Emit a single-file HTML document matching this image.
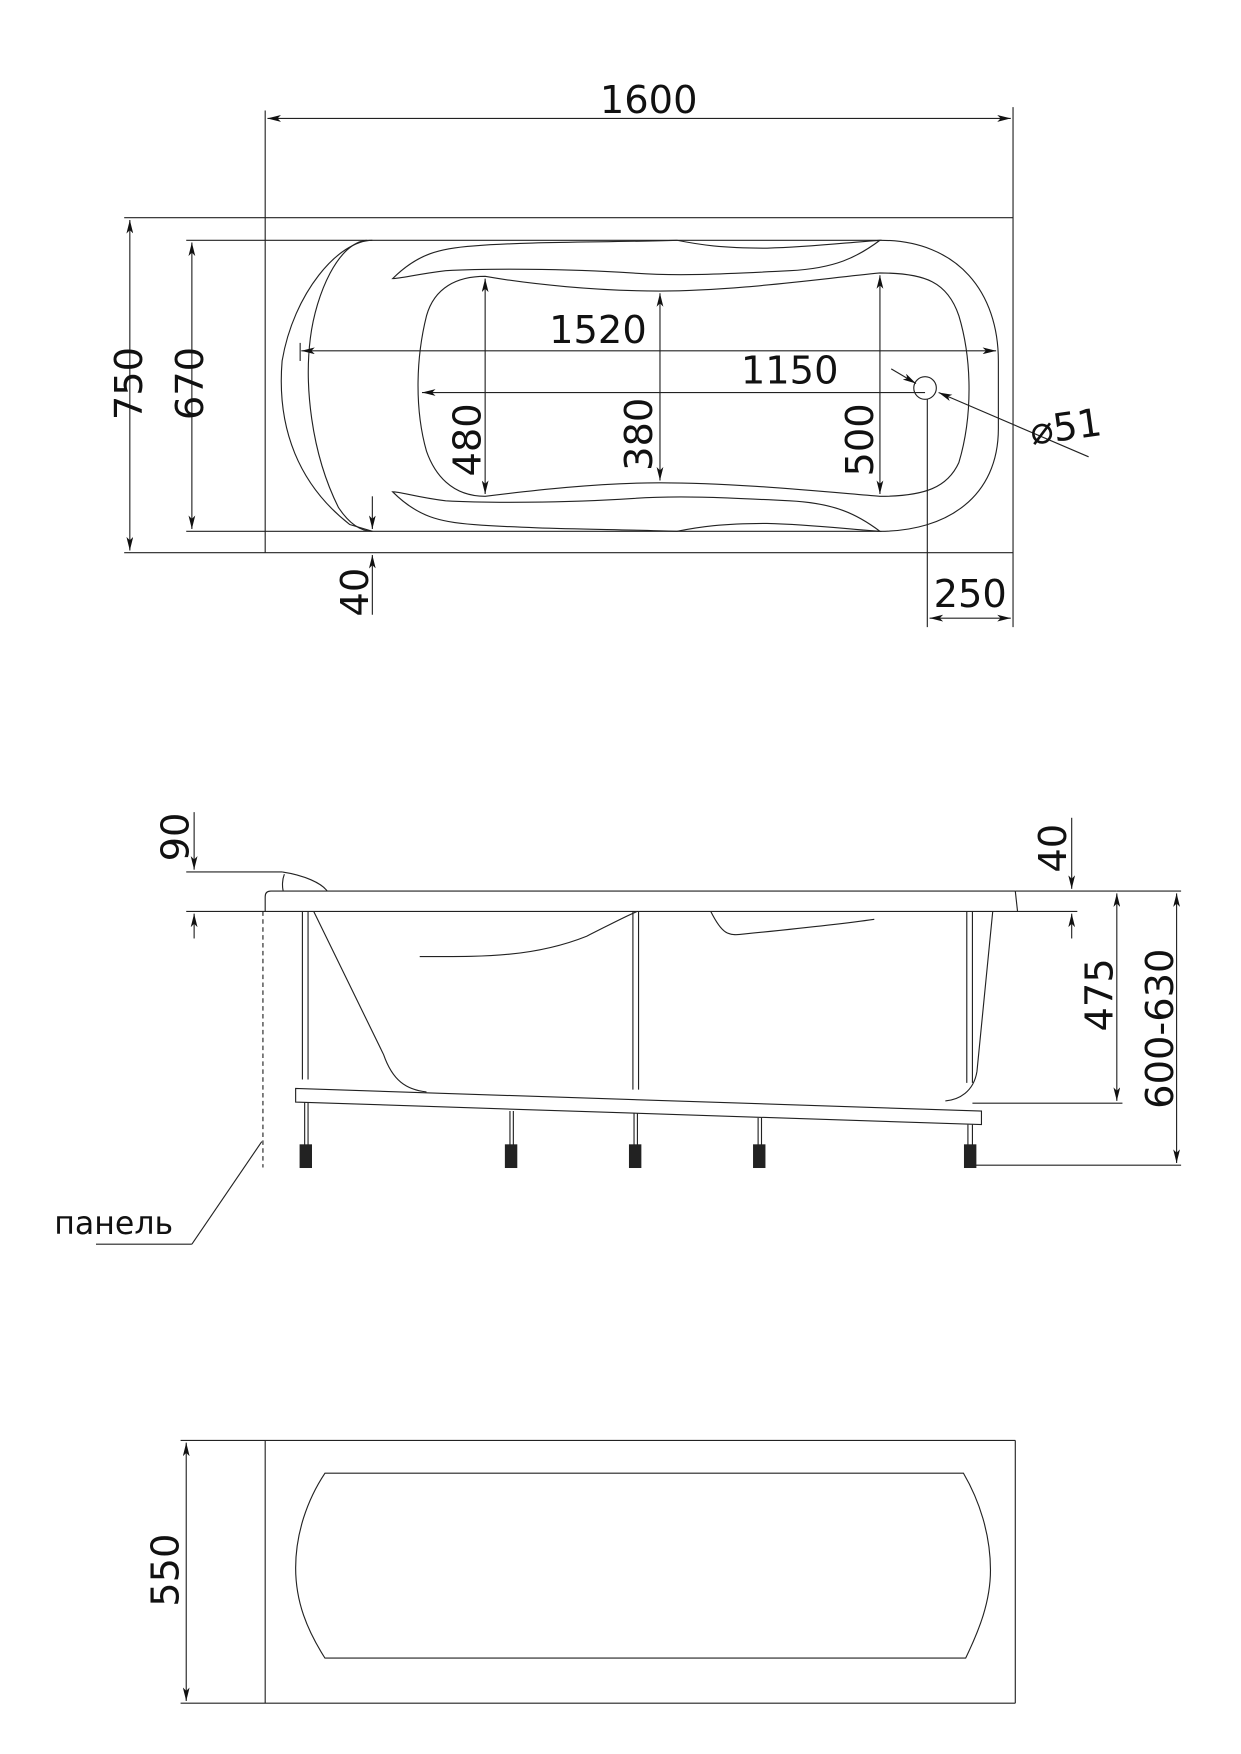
<!DOCTYPE html>
<html><head><meta charset="utf-8"><style>
html,body{margin:0;padding:0;background:#fff}
svg{display:block}
text{font-family:"DejaVu Sans","Liberation Sans",sans-serif;fill:#111}
</style></head><body>
<svg width="1241" height="1754" viewBox="0 0 1100 1555" xmlns="http://www.w3.org/2000/svg">
<defs>
<marker id="a" viewBox="0 0 12 6" refX="12" refY="3" markerWidth="12" markerHeight="6" orient="auto-start-reverse" markerUnits="userSpaceOnUse"><path d="M0,0 L12,3 L0,6 L3,3 z" fill="#111"/></marker>
</defs>
<g stroke="#222" stroke-width="1" fill="none">
<!-- TOP VIEW -->
<line x1="235" y1="98" x2="235" y2="490"/>
<line x1="898" y1="95" x2="898" y2="556"/>
<line x1="110" y1="193" x2="898" y2="193"/>
<line x1="110" y1="490" x2="898" y2="490"/>
<line x1="237" y1="105" x2="896" y2="105" marker-start="url(#a)" marker-end="url(#a)"/>
<line x1="115" y1="195" x2="115" y2="488" marker-start="url(#a)" marker-end="url(#a)"/>
<line x1="165" y1="213" x2="780" y2="213"/>
<line x1="165" y1="471" x2="780" y2="471"/>
<line x1="170" y1="215" x2="170" y2="469" marker-start="url(#a)" marker-end="url(#a)"/>
<!-- tub outline -->
<path d="M780,213 C850,213 885,260 885,320 L885,380 C885,440 840,471 780,471"/>
<path d="M325,213 C300,215 280,260 275,300 C270,340 275,400 300,450 C310,465 320,471 330,471"/>
<path d="M330,213 C300,213 260,260 250,320 C245,380 265,430 310,465 L330,471"/>
<!-- upper wave -->
<path d="M348,247 C370,225 390,220 420,218 C470,214 540,215 600,213 C620,217 640,220 680,220 C720,219 750,215 780,213 C760,228 740,238 700,240 C640,243 600,245 560,242 C500,238 430,238 395,240 C370,243 355,247 348,247 z"/>
<!-- lower wave -->
<path d="M348,436 C370,458 390,463 420,465 C470,469 540,469 600,471 C620,467 640,464 680,464 C720,465 750,469 780,471 C760,456 740,446 700,444 C640,441 600,439 560,442 C500,446 430,446 395,444 C370,441 355,436 348,436 z"/>
<!-- inner basin -->
<path d="M430,245 C470,252 530,258 585,258 C650,258 720,248 780,242 C820,242 840,250 850,280 C862,320 862,370 850,410 C840,432 820,440 780,440 C720,435 650,428 585,428 C530,428 470,435 430,440 C400,440 385,420 378,400 C368,365 368,320 378,280 C385,255 405,245 430,245 z"/>
<line x1="267" y1="311" x2="883" y2="311" marker-start="url(#a)" marker-end="url(#a)"/>
<line x1="266" y1="304" x2="266" y2="320"/>
<line x1="374" y1="348" x2="820" y2="348" marker-start="url(#a)"/>
<line x1="430" y1="247" x2="430" y2="438" marker-start="url(#a)" marker-end="url(#a)"/>
<line x1="585" y1="260" x2="585" y2="426" marker-start="url(#a)" marker-end="url(#a)"/>
<line x1="780" y1="244" x2="780" y2="438" marker-start="url(#a)" marker-end="url(#a)"/>
<circle cx="820" cy="344" r="10"/>
<line x1="790" y1="327" x2="812" y2="340" marker-end="url(#a)"/>
<line x1="965" y1="405" x2="832" y2="348" marker-end="url(#a)"/>
<line x1="822" y1="354" x2="822" y2="556"/>
<line x1="824" y1="548" x2="896" y2="548" marker-start="url(#a)" marker-end="url(#a)"/>
<line x1="330" y1="440" x2="330" y2="469" marker-end="url(#a)"/>
<line x1="330" y1="545" x2="330" y2="492" marker-end="url(#a)"/>
<!-- SIDE VIEW -->
<line x1="172" y1="720" x2="172" y2="771" marker-end="url(#a)"/>
<line x1="172" y1="832" x2="172" y2="810" marker-end="url(#a)"/>
<line x1="165" y1="773" x2="250" y2="773"/>
<path d="M250,773 C270,776 285,783 290,790"/>
<path d="M252,775 C250,780 250,786 251,790"/>
<line x1="950" y1="725" x2="950" y2="788" marker-end="url(#a)"/>
<line x1="950" y1="832" x2="950" y2="810" marker-end="url(#a)"/>
<path d="M240,790 L900,790 M235,795 L235,808 M235,795 Q235,790 240,790"/>
<line x1="165" y1="808" x2="955" y2="808"/>
<line x1="900" y1="790" x2="990" y2="790"/>
<line x1="900" y1="790" x2="902" y2="808"/>
<line x1="990" y1="792" x2="990" y2="976" marker-start="url(#a)" marker-end="url(#a)"/>
<line x1="1043" y1="792" x2="1043" y2="1031" marker-start="url(#a)" marker-end="url(#a)"/>
<line x1="990" y1="790" x2="1047" y2="790"/>
<line x1="862" y1="978" x2="995" y2="978"/>
<line x1="862" y1="1033" x2="1047" y2="1033"/>
<path d="M278,808 L340,935 C348,958 360,966 378,968"/>
<path d="M880,808 L866,950 C863,968 850,975 838,976"/>
<path d="M372,848 C420,848 470,850 520,830 C540,820 555,812 565,808"/>
<path d="M630,808 C640,828 645,830 660,828 C700,824 740,820 775,815"/>
<!-- legs -->
<g stroke-width="1">
<path d="M268,808 L268,957 M273,808 L273,957"/>
<path d="M561,808 L561,966 M566,808 L566,966"/>
<path d="M857,808 L857,960 M862,808 L862,960"/>
<path d="M262,965 L870,985 L870,997 L262,977 Z"/>
</g>
<g fill="#222">
<rect x="266" y="1015" width="10" height="20"/><rect x="448" y="1015" width="10" height="20"/><rect x="558" y="1015" width="10" height="20"/><rect x="668" y="1015" width="10" height="20"/><rect x="855" y="1015" width="10" height="20"/>
</g>
<path d="M270,977 L270,1015 M273,977 L273,1015 M452,985 L452,1015 M455,985 L455,1015 M562,987 L562,1015 M565,987 L565,1015 M672,991 L672,1015 M675,991 L675,1015 M858,997 L858,1015 M862,997 L862,1015"/>
<line x1="233" y1="808" x2="233" y2="1035" stroke-dasharray="4,3"/>
<line x1="232" y1="1012" x2="170" y2="1103"/>
<line x1="85" y1="1103" x2="170" y2="1103"/>
<!-- BOTTOM VIEW -->
<line x1="160" y1="1277" x2="900" y2="1277"/>
<line x1="160" y1="1510" x2="900" y2="1510"/>
<line x1="235" y1="1277" x2="235" y2="1510"/>
<line x1="900" y1="1277" x2="900" y2="1510"/>
<line x1="165" y1="1279" x2="165" y2="1508" marker-start="url(#a)" marker-end="url(#a)"/>
<path d="M288,1306 L854,1306 C868,1330 878,1360 878,1392 C878,1420 868,1445 856,1470 L288,1470 C272,1445 262,1420 262,1390 C262,1360 272,1330 288,1306 Z"/>
</g>
<g font-size="34">
<text x="575" y="100" text-anchor="middle">1600</text>
<text x="530" y="304" text-anchor="middle">1520</text>
<text x="700" y="340" text-anchor="middle">1150</text>
<text x="860" y="538" text-anchor="middle">250</text>
<text x="945" y="390" text-anchor="middle" transform="rotate(-8 945 380)">⌀51</text>
<text transform="translate(126,340) rotate(-90)" text-anchor="middle">750</text>
<text transform="translate(180,340) rotate(-90)" text-anchor="middle">670</text>
<text transform="translate(426,390) rotate(-90)" text-anchor="middle">480</text>
<text transform="translate(578,385) rotate(-90)" text-anchor="middle">380</text>
<text transform="translate(774,390) rotate(-90)" text-anchor="middle">500</text>
<text transform="translate(326,525) rotate(-90)" text-anchor="middle">40</text>
<text transform="translate(167,742) rotate(-90)" text-anchor="middle">90</text>
<text transform="translate(945,752) rotate(-90)" text-anchor="middle">40</text>
<text transform="translate(986,882) rotate(-90)" text-anchor="middle">475</text>
<text transform="translate(1040,912) rotate(-90)" text-anchor="middle">600-630</text>
<text transform="translate(158,1392) rotate(-90)" text-anchor="middle">550</text>
</g>
<text x="48" y="1094" font-size="28">панель</text>
</svg>
</body></html>
